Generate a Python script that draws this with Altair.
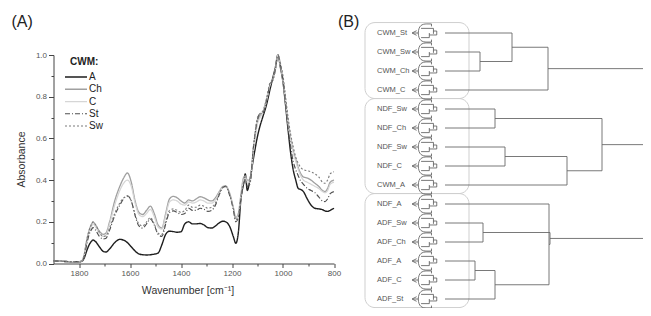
import altair as alt
import pandas as pd

# ---------------- Panel A data (FTIR spectra, CWM) ----------------
wavenumber = [
    1900, 1860, 1820, 1800, 1790, 1780, 1770, 1760, 1750, 1745,
    1735, 1720, 1705, 1695, 1680, 1660, 1640, 1625, 1610, 1595,
    1580, 1565, 1550, 1535, 1520, 1505, 1490, 1475, 1460, 1445,
    1430, 1415, 1400, 1385, 1370, 1355, 1340, 1325, 1310, 1295,
    1280, 1265, 1250, 1235, 1225, 1210, 1195, 1185, 1175, 1165,
    1155, 1148, 1140, 1130, 1115, 1100, 1090, 1080, 1065, 1050,
    1040, 1030, 1020, 1010, 1000, 990, 980, 970, 960, 950,
    940, 930, 920, 905, 890, 875, 860, 845, 835, 825,
    815, 800,
]
abs_A = [
    0.013, 0.010, 0.008, 0.008, 0.010, 0.025, 0.060, 0.090, 0.108, 0.113,
    0.105, 0.080, 0.058, 0.055, 0.070, 0.100, 0.116, 0.112, 0.100, 0.080,
    0.060, 0.046, 0.042, 0.041, 0.042, 0.045, 0.050, 0.090, 0.140, 0.155,
    0.153, 0.150, 0.152, 0.190, 0.200, 0.190, 0.190, 0.192, 0.185, 0.172,
    0.170, 0.180, 0.195, 0.203, 0.200, 0.180, 0.130, 0.097, 0.150, 0.310,
    0.380, 0.430, 0.350, 0.400, 0.510, 0.610, 0.660, 0.700, 0.760, 0.840,
    0.890, 0.940, 1.000, 0.940, 0.870, 0.760, 0.640, 0.530, 0.450, 0.400,
    0.360, 0.355, 0.345, 0.310, 0.280, 0.265, 0.262, 0.258, 0.252, 0.250,
    0.255, 0.265,
]
abs_Ch = [
    0.013, 0.010, 0.009, 0.009, 0.012, 0.040, 0.110, 0.160, 0.190, 0.198,
    0.185, 0.155, 0.140, 0.145, 0.200, 0.300, 0.370, 0.410, 0.434, 0.390,
    0.300, 0.245, 0.235, 0.255, 0.275, 0.240, 0.185, 0.170, 0.240, 0.310,
    0.322, 0.315, 0.300, 0.290, 0.305, 0.300, 0.310, 0.320, 0.315, 0.305,
    0.300, 0.315, 0.345, 0.370, 0.372, 0.340, 0.270, 0.220, 0.240, 0.330,
    0.410, 0.420, 0.400, 0.400, 0.560, 0.680, 0.710, 0.720, 0.780, 0.860,
    0.880, 0.930, 1.000, 0.950, 0.880, 0.780, 0.680, 0.600, 0.540, 0.500,
    0.460, 0.430, 0.415, 0.410, 0.400, 0.385, 0.370, 0.350, 0.345, 0.360,
    0.390, 0.400,
]
abs_C = [
    0.013, 0.010, 0.009, 0.009, 0.012, 0.035, 0.100, 0.150, 0.180, 0.190,
    0.175, 0.145, 0.130, 0.135, 0.190, 0.280, 0.350, 0.385, 0.400, 0.370,
    0.290, 0.235, 0.225, 0.240, 0.260, 0.225, 0.175, 0.165, 0.230, 0.295,
    0.305, 0.300, 0.285, 0.280, 0.295, 0.290, 0.295, 0.305, 0.300, 0.290,
    0.290, 0.305, 0.340, 0.365, 0.368, 0.335, 0.265, 0.215, 0.235, 0.320,
    0.400, 0.410, 0.390, 0.390, 0.550, 0.670, 0.700, 0.720, 0.780, 0.860,
    0.880, 0.930, 1.000, 0.950, 0.880, 0.780, 0.670, 0.590, 0.530, 0.490,
    0.450, 0.420, 0.400, 0.390, 0.380, 0.370, 0.360, 0.345, 0.340, 0.350,
    0.380, 0.390,
]
abs_St = [
    0.013, 0.010, 0.009, 0.009, 0.012, 0.030, 0.090, 0.140, 0.165, 0.172,
    0.160, 0.130, 0.118, 0.120, 0.160, 0.230, 0.280, 0.310, 0.325, 0.300,
    0.230, 0.180, 0.170, 0.190, 0.213, 0.185, 0.140, 0.130, 0.190, 0.245,
    0.252, 0.245, 0.235, 0.240, 0.265, 0.255, 0.255, 0.265, 0.260, 0.250,
    0.255, 0.280, 0.330, 0.365, 0.370, 0.330, 0.260, 0.200, 0.220, 0.310,
    0.380, 0.400, 0.370, 0.380, 0.570, 0.690, 0.720, 0.720, 0.780, 0.860,
    0.880, 0.930, 1.000, 0.950, 0.880, 0.770, 0.650, 0.560, 0.490, 0.450,
    0.420, 0.395, 0.380, 0.360, 0.350, 0.340, 0.320, 0.300, 0.297, 0.310,
    0.335, 0.345,
]
abs_Sw = [
    0.013, 0.010, 0.009, 0.009, 0.012, 0.040, 0.110, 0.160, 0.190, 0.200,
    0.185, 0.150, 0.130, 0.132, 0.170, 0.240, 0.290, 0.315, 0.322, 0.300,
    0.235, 0.190, 0.180, 0.200, 0.220, 0.190, 0.145, 0.140, 0.200, 0.255,
    0.262, 0.255, 0.245, 0.255, 0.280, 0.270, 0.270, 0.280, 0.275, 0.265,
    0.270, 0.290, 0.335, 0.366, 0.370, 0.335, 0.265, 0.210, 0.230, 0.320,
    0.390, 0.405, 0.380, 0.385, 0.570, 0.700, 0.720, 0.730, 0.790, 0.870,
    0.880, 0.930, 1.000, 0.960, 0.900, 0.800, 0.700, 0.620, 0.560, 0.510,
    0.480, 0.460, 0.450, 0.445, 0.440, 0.430, 0.415, 0.390, 0.385, 0.400,
    0.430, 0.440,
]
series_names = ["A", "Ch", "C", "St", "Sw"]
series_values = [abs_A, abs_Ch, abs_C, abs_St, abs_Sw]
legend_title = ["CWM:"]
panel_labels = ["(A)", "(B)"]

# ---------------- Panel B data (dendrogram) ----------------
leaf_labels = ["CWM_St", "CWM_Sw", "CWM_Ch", "CWM_C", "NDF_Sw", "NDF_Ch", "NDF_Sw",
               "NDF_C", "CWM_A", "NDF_A", "ADF_Sw", "ADF_Ch", "ADF_A", "ADF_C", "ADF_St"]
# merges: node ids 0..14 are leaves, merge k gets id 15+k
merge_left = [1, 0, 16, 4, 6, 19, 18, 10, 12, 23, 9, 22, 21, 17]
merge_right = [2, 15, 3, 5, 7, 8, 20, 11, 13, 14, 24, 25, 26, 27]
merge_height = [35, 67, 103, 50, 60, 122, 157, 38, 30, 50, 104, 105, 203, 260]
group_first = [0, 4, 9]
group_last = [3, 8, 14]

# ---------------- styles ----------------
series_colors = ["#1e1e1e", "#a0a0a0", "#d6d6d6", "#505050", "#7a7a7a"]
series_dash = [[1, 0], [1, 0], [1, 0], [5, 2, 1, 2], [2, 2]]
series_width = [1.4, 1.1, 1.1, 1.0, 1.0]
FONT = "Liberation Sans"

for s in series_values:
    assert len(s) == len(wavenumber)

spec_df = pd.DataFrame(
    [{"wavenumber": w, "absorbance": v, "series": n}
     for n, vals in zip(series_names, series_values)
     for w, v in zip(wavenumber, vals)]
)
leg_df = pd.DataFrame({"series": series_names})

# dendrogram segments
n_leaves = len(leaf_labels)
node_y = {i: float(i) for i in range(n_leaves)}
node_h = {i: 0.0 for i in range(n_leaves)}
segs = []
for k, (a, b, h) in enumerate(zip(merge_left, merge_right, merge_height)):
    nid = n_leaves + k
    for c in (a, b):
        segs.append({"x1": node_h[c], "x2": h, "y1": node_y[c], "y2": node_y[c]})
    segs.append({"x1": h, "x2": h, "y1": node_y[a], "y2": node_y[b]})
    node_y[nid] = (node_y[a] + node_y[b]) / 2
    node_h[nid] = h
seg_df = pd.DataFrame(segs)
leaf_df = pd.DataFrame({"idx": list(range(n_leaves)), "label": leaf_labels})
box_df = pd.DataFrame({"first": group_first, "last": group_last})

color_enc = alt.Color("series:N", scale=alt.Scale(domain=series_names, range=series_colors), legend=None)
dash_enc = alt.StrokeDash("series:N", scale=alt.Scale(domain=series_names, range=series_dash), legend=None)
width_enc = alt.StrokeWidth("series:N", scale=alt.Scale(domain=series_names, range=series_width), legend=None)

y_vals = [round(i * 0.1, 1) for i in range(11)]
x_vals = list(range(800, 1801, 100))

spectra = alt.Chart(spec_df).mark_line(interpolate="monotone").encode(
    x=alt.X("wavenumber:Q",
            scale=alt.Scale(domain=[800, 1900], reverse=True, nice=False, zero=False),
            axis=alt.Axis(values=x_vals, title="Wavenumber [cm⁻¹]",
                          labelExpr="datum.value % 200 == 0 ? format(datum.value, 'd') : ''",
                          tickSize={"condition": {"test": "datum.value % 200 == 0", "value": 4}, "value": 2.5},
                          labelPadding=2, titleX=134, titleY=22, titleBaseline="top",
                          labelFlush=False)),
    y=alt.Y("absorbance:Q",
            scale=alt.Scale(domain=[0, 1], nice=False),
            axis=alt.Axis(values=y_vals, title="Absorbance",
                          labelExpr="round(datum.value * 10) % 2 == 0 ? format(datum.value, '.1f') : ''",
                          tickSize={"condition": {"test": "round(datum.value * 10) % 2 == 0", "value": 5}, "value": 2.5},
                          labelPadding=2, titleX=-27, titleY=104, labelFlush=False)),
    color=color_enc, strokeDash=dash_enc, strokeWidth=width_enc,
    detail="series:N",
)

leg_y = alt.Y("series:N", scale=alt.Scale(type="point", domain=series_names, range=[22, 71], padding=0), axis=None)
legend_lines = alt.Chart(leg_df).mark_rule().encode(
    x=alt.value(11.5), x2=alt.value(33.5), y=leg_y,
    color=color_enc, strokeDash=dash_enc, strokeWidth=width_enc,
)
legend_text = alt.Chart(leg_df).mark_text(align="left", baseline="middle", fontSize=10, color="#222", font=FONT).encode(
    x=alt.value(35.5), y=leg_y, text="series:N",
)
legend_head = alt.Chart(pd.DataFrame({"t": legend_title})).mark_text(
    align="left", baseline="alphabetic", fontSize=10, fontWeight="bold", color="#222", font=FONT
).encode(x=alt.value(16.5), y=alt.value(10), text="t:N")

lab_df = pd.DataFrame({"t": panel_labels, "xp": [-42, 284.5]})
panel_text = alt.Chart(lab_df).mark_text(
    align="left", baseline="top", fontSize=16, color="#222", font=FONT
).encode(x=alt.X("xp:Q", scale=alt.Scale(domain=[0, 1], range=[0, 1]), axis=None), y=alt.value(-41), text="t:N")

dx = alt.Scale(domain=[0, 206], range=[391.5, 597.5], nice=False, zero=False)
dy = alt.Scale(domain=[0, 14], range=[-22, 244], nice=False, zero=False)

dendro = alt.Chart(seg_df).mark_rule(color="#6a6a6a", strokeWidth=0.9).encode(
    x=alt.X("x1:Q", scale=dx, axis=None), x2="x2:Q",
    y=alt.Y("y1:Q", scale=dy, axis=None), y2="y2:Q",
)
boxes = alt.Chart(box_df).transform_calculate(
    top="datum.first - 0.55", bottom="datum.last + 0.45"
).mark_rect(filled=False, stroke="#cfcfcf", strokeWidth=1, cornerRadius=10).encode(
    x=alt.value(311.5), x2=alt.value(415.5),
    y=alt.Y("top:Q", scale=dy, axis=None), y2="bottom:Q",
)
ICON = ("M-1,0L-0.72,-0.14M-1,0L-0.72,0.14M-0.95,0L-0.62,0"
        "M-0.62,0C-0.6,-0.45,-0.4,-0.55,-0.1,-0.55L0.18,-0.55L0.18,-0.4"
        "M-0.62,0C-0.6,0.45,-0.4,0.55,-0.1,0.55L0.18,0.55L0.18,0.4"
        "M-0.45,-0.28L0.3,-0.28L0.3,0.05"
        "M-0.45,0.28L0.05,0.28L0.05,0.0"
        "M0.05,0.12L0.5,0.12L0.5,-0.12L0.3,-0.12")
icons = alt.Chart(leaf_df).mark_point(shape=ICON, size=1089, filled=False, stroke="#555", strokeWidth=0.8, opacity=1).encode(
    x=alt.value(375), y=alt.Y("idx:Q", scale=dy, axis=None),
)
labels = alt.Chart(leaf_df).mark_text(align="left", baseline="middle", fontSize=7.5, color="#555", font=FONT).encode(
    x=alt.value(323.5), y=alt.Y("idx:Q", scale=dy, axis=None), text="label:N",
)

chart = alt.layer(
    spectra, legend_lines, legend_text, legend_head, panel_text, boxes, dendro, icons, labels
).resolve_scale(x="independent", y="independent").properties(
    width=280.5, height=208.5,
    autosize=alt.AutoSizeParams(type="none"),
    padding={"left": 45.5, "top": 47, "right": 309, "bottom": 44.5},
    background="white",
).configure_view(stroke=None).configure_axis(
    grid=False, domainColor="#444", tickColor="#444", labelColor="#555",
    labelFont=FONT, labelFontSize=8, titleFont=FONT, titleFontSize=10.5,
    titleFontWeight="normal", titleColor="#333",
)

chart.save("out.html", embed_options={"renderer": "svg", "actions": False})
